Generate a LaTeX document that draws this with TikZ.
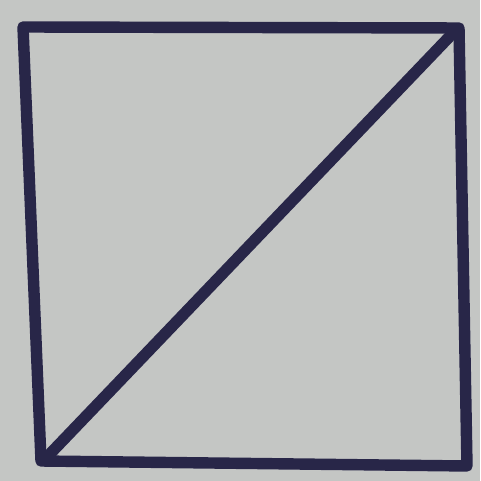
\documentclass[tikz,border=0pt]{standalone}
\usepackage{tikz}
\usetikzlibrary{calc}
\definecolor{paper}{RGB}{196,198,196}
\definecolor{ink}{RGB}{40,38,72}

\begin{document}
\begin{tikzpicture}[scale = 1]

    \tikzset{
      edge/.style={
        color={ink},
        line width=6.5pt,
        line cap=round,
        line join=round,
      },
    }
    \fill[color={paper}] (0,0) rectangle (9.6,9.62);
    \useasboundingbox (0,0) rectangle (9.6,9.62);
    \coordinate (A) at (0.46,9.08);
    \coordinate (B) at (9.18,9.06);
    \coordinate (C) at (9.34,0.30);
    \coordinate (D) at (0.82,0.40);
    	\draw[edge] (A)--(B)--(C)--(D)--cycle;
	\draw[edge] ($(D)+(0.12,0.08)$)--($(B)+(-0.12,-0.1)$);

\end{tikzpicture}
\end{document}
